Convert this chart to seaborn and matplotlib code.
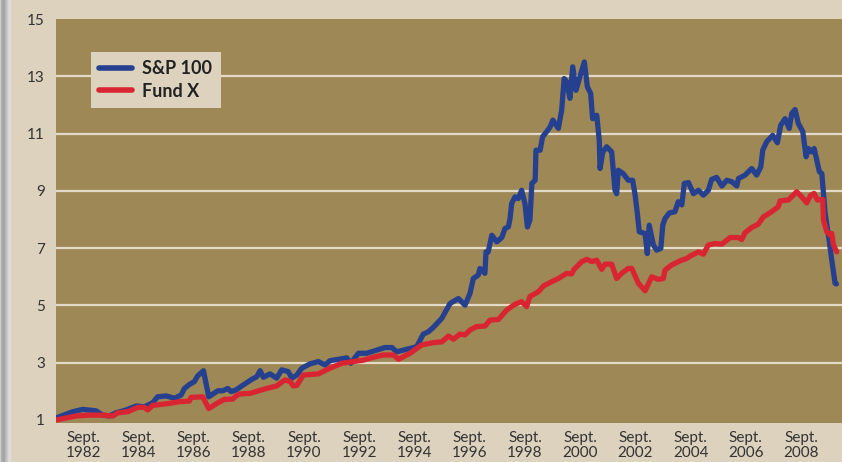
import numpy as np
import pandas as pd
import matplotlib
matplotlib.use("Agg")
import matplotlib.pyplot as plt
import seaborn as sns

# ---------------- data (decimal years, growth of $1) ----------------
sp_years = [1981.69, 1982.30, 1982.66, 1983.14, 1983.38, 1983.62, 1983.86, 1984.23, 1984.59, 1984.89,
            1985.19, 1985.37, 1985.68, 1985.98, 1986.22, 1986.34, 1986.52, 1986.70, 1986.82, 1987.03,
            1987.22, 1987.55, 1987.73, 1987.91, 1988.03, 1988.21, 1988.42, 1988.78, 1988.96, 1989.08,
            1989.20, 1989.44, 1989.68, 1989.86, 1990.10, 1990.23, 1990.41, 1990.59, 1990.89, 1991.19,
            1991.43, 1991.61, 1991.91, 1992.22, 1992.36, 1992.64, 1992.94, 1993.30, 1993.60, 1993.85,
            1994.03, 1994.27, 1994.39, 1994.75, 1994.99, 1995.17, 1995.35, 1995.66, 1995.96, 1996.26,
            1996.50, 1996.68, 1996.80, 1996.98, 1997.04, 1997.22, 1997.26, 1997.34, 1997.47, 1997.65,
            1997.83, 1997.95, 1998.07, 1998.13, 1998.19, 1998.31, 1998.43, 1998.55, 1998.67, 1998.76,
            1998.85, 1998.92, 1999.04, 1999.07, 1999.22, 1999.31, 1999.46, 1999.58, 1999.68, 1999.88,
            2000.00, 2000.09, 2000.18, 2000.30, 2000.40, 2000.52, 2000.66, 2000.82, 2000.93, 2001.05,
            2001.12, 2001.27, 2001.36, 2001.39, 2001.49, 2001.63, 2001.81, 2001.93, 2001.99, 2002.05,
            2002.23, 2002.41, 2002.57, 2002.66, 2002.74, 2002.81, 2003.02, 2003.10, 2003.17, 2003.32,
            2003.44, 2003.59, 2003.66, 2003.74, 2003.90, 2004.10, 2004.22, 2004.35, 2004.44, 2004.59,
            2004.77, 2004.95, 2005.13, 2005.31, 2005.43, 2005.61, 2005.80, 2005.98, 2006.16, 2006.34,
            2006.40, 2006.64, 2006.88, 2007.06, 2007.21, 2007.28, 2007.42, 2007.64, 2007.81, 2007.93,
            2008.09, 2008.24, 2008.33, 2008.45, 2008.57, 2008.73, 2008.85, 2008.93, 2009.05, 2009.14,
            2009.21, 2009.33, 2009.42, 2009.47, 2009.54, 2009.65, 2009.78, 2009.90, 2009.95]
sp_values = [1.07, 1.29, 1.37, 1.32, 1.17, 1.14, 1.25, 1.35, 1.49, 1.46,
             1.60, 1.81, 1.84, 1.76, 1.87, 2.10, 2.24, 2.34, 2.54, 2.72,
             1.81, 2.02, 2.02, 2.10, 1.99, 2.05, 2.19, 2.42, 2.51, 2.72,
             2.49, 2.61, 2.46, 2.75, 2.69, 2.46, 2.57, 2.81, 2.96, 3.04,
             2.92, 3.07, 3.12, 3.17, 2.98, 3.33, 3.33, 3.44, 3.53, 3.53,
             3.38, 3.44, 3.47, 3.56, 4.00, 4.08, 4.23, 4.55, 5.07, 5.24,
             5.01, 5.42, 5.94, 6.06, 6.29, 6.12, 6.87, 6.87, 7.45, 7.22,
             7.37, 7.69, 7.74, 8.03, 8.56, 8.79, 8.73, 9.02, 8.56, 7.74,
             7.98, 9.26, 9.37, 10.42, 10.42, 10.89, 11.07, 11.23, 11.47, 11.18,
             11.82, 12.92, 12.81, 12.23, 13.33, 12.51, 12.98, 13.50, 12.63, 12.40,
             11.52, 11.64, 10.77, 9.78, 10.36, 10.54, 10.36, 9.02, 8.90, 9.72,
             9.60, 9.37, 9.37, 8.85, 8.21, 7.57, 7.51, 6.81, 7.80, 7.11,
             6.93, 6.99, 7.80, 8.03, 8.23, 8.27, 8.62, 8.51, 9.26, 9.29,
             8.90, 9.02, 8.85, 9.02, 9.40, 9.47, 9.17, 9.37, 9.32, 9.17,
             9.43, 9.55, 9.78, 9.55, 9.84, 10.42, 10.71, 10.94, 10.68, 11.29,
             11.52, 11.18, 11.70, 11.84, 11.35, 11.07, 10.19, 10.48, 10.36, 10.48,
             10.19, 9.67, 9.60, 9.02, 8.21, 7.51, 6.58, 5.77, 5.75]

fund_years = [1981.69, 1982.42, 1982.90, 1983.38, 1983.75, 1983.93, 1984.29, 1984.65, 1984.89, 1985.01,
              1985.19, 1985.80, 1986.16, 1986.52, 1986.58, 1987.00, 1987.22, 1987.55, 1987.79, 1988.09,
              1988.21, 1988.35, 1988.72, 1989.20, 1989.68, 1989.98, 1990.17, 1990.28, 1990.41, 1990.65,
              1991.19, 1991.61, 1992.04, 1992.46, 1992.82, 1993.18, 1993.54, 1993.91, 1994.09, 1994.51,
              1994.93, 1995.35, 1995.66, 1995.90, 1996.08, 1996.32, 1996.50, 1996.68, 1996.92, 1997.22,
              1997.41, 1997.71, 1998.01, 1998.31, 1998.55, 1998.73, 1998.85, 1999.16, 1999.34, 1999.64,
              1999.88, 2000.18, 2000.36, 2000.45, 2000.73, 2000.91, 2001.09, 2001.27, 2001.45, 2001.57,
              2001.81, 2001.99, 2002.17, 2002.41, 2002.54, 2002.78, 2003.02, 2003.26, 2003.50, 2003.68,
              2003.74, 2003.98, 2004.29, 2004.53, 2004.65, 2004.95, 2005.13, 2005.31, 2005.55, 2005.80,
              2006.10, 2006.40, 2006.52, 2006.64, 2006.88, 2007.12, 2007.30, 2007.54, 2007.84, 2007.91,
              2008.21, 2008.51, 2008.69, 2008.87, 2009.02, 2009.14, 2009.26, 2009.45, 2009.48, 2009.60,
              2009.72, 2009.78, 2009.84, 2009.96]
fund_values = [1.00, 1.14, 1.17, 1.17, 1.14, 1.25, 1.29, 1.44, 1.44, 1.35,
               1.51, 1.58, 1.64, 1.66, 1.79, 1.81, 1.40, 1.60, 1.72, 1.73,
               1.84, 1.91, 1.93, 2.07, 2.19, 2.40, 2.34, 2.19, 2.21, 2.57,
               2.61, 2.81, 2.98, 3.04, 3.09, 3.19, 3.27, 3.27, 3.12, 3.33,
               3.62, 3.70, 3.73, 3.93, 3.82, 4.00, 3.97, 4.14, 4.26, 4.28,
               4.49, 4.51, 4.84, 5.04, 5.13, 4.96, 5.31, 5.48, 5.68, 5.83,
               5.94, 6.12, 6.10, 6.26, 6.53, 6.61, 6.53, 6.58, 6.26, 6.44,
               6.44, 5.94, 6.12, 6.29, 6.29, 5.77, 5.51, 6.00, 5.91, 5.94,
               6.23, 6.41, 6.56, 6.64, 6.72, 6.87, 6.79, 7.11, 7.16, 7.14,
               7.37, 7.37, 7.30, 7.54, 7.72, 7.84, 8.09, 8.23, 8.44, 8.65,
               8.68, 8.97, 8.79, 8.58, 8.85, 8.91, 8.68, 8.70, 7.98, 7.57,
               7.46, 7.51, 7.11, 6.87]

series_names = ["S&P 100", "Fund X"]
y_ticks = [1, 3, 5, 7, 9, 11, 13, 15]
tick_years = [1982, 1984, 1986, 1988, 1990, 1992, 1994, 1996, 1998, 2000, 2002, 2004, 2006, 2008]
tick_labels = [f"Sept.\n{y}" for y in tick_years]

# ---------------- styling ----------------
OUTER = "#dcd2be"
PLOT_BG = "#9e8856"
GRID = "#e4dac8"
BLUE = "#25408f"
RED = "#d92532"
TEXT = "#333333"

sns.set_theme(style="white")
plt.rcParams["font.family"] = ["Lato", "DejaVu Sans"]

df = pd.concat([
    pd.DataFrame({"year": sp_years, "value": sp_values, "series": series_names[0]}),
    pd.DataFrame({"year": fund_years, "value": fund_values, "series": series_names[1]}),
], ignore_index=True)

fig = plt.figure(figsize=(8.42, 4.62), dpi=100, facecolor=OUTER)
ax = fig.add_axes([56 / 842, 1 - 423 / 462, 1 - 56 / 842, (423 - 19) / 462])
ax.set_facecolor(PLOT_BG)

# left shadow strip
sh = fig.add_axes([0, 0, 11 / 842, 1])
grad = np.array([[0.80, 0.70, 0.66, 0.64, 0.66, 0.70, 0.75, 0.80, 0.84, 0.86, 0.86]])
sh.imshow(grad, aspect="auto", cmap="gray", vmin=0, vmax=1, extent=[0, 1, 0, 1])
sh.set_axis_off()

sns.lineplot(data=df, x="year", y="value", hue="series", hue_order=series_names,
             palette=[BLUE, RED], linewidth=3.8, ax=ax, estimator=None, sort=False,
             legend=True)
# red drawn above blue
for ln in ax.lines:
    ln.set_solid_joinstyle("round")
    ln.set_solid_capstyle("round")

for lvl in y_ticks[1:-1]:
    ax.axhline(lvl, color=GRID, linewidth=1.6, zorder=0.5)

ax.set_xlim(1981.69, 2010.15)
ax.set_ylim(0.895, 15)
ax.set_yticks(y_ticks)
ax.set_yticklabels([str(v) for v in y_ticks], fontsize=11, color=TEXT)
ax.set_xticks([y + 0.67 for y in tick_years])
ax.set_xticklabels(tick_labels, fontsize=11, color=TEXT, linespacing=1.1)
ax.tick_params(axis="both", length=0)
ax.tick_params(axis="y", pad=8)
ax.tick_params(axis="x", pad=6)
ax.set_xlabel("")
ax.set_ylabel("")
for s in ax.spines.values():
    s.set_visible(False)

handles, labels = ax.get_legend_handles_labels()
leg = ax.legend(handles, labels, loc="upper left", bbox_to_anchor=(0.0445, 0.918),
                borderaxespad=0, frameon=True, fancybox=False, framealpha=1,
                facecolor=OUTER, edgecolor="none", prop={"weight": "bold", "size": 13},
                handlelength=1.8, handletextpad=0.6, labelspacing=0.3,
                borderpad=0.45)
for t in leg.get_texts():
    t.set_color("#222222")
for h in leg.get_lines():
    h.set_linewidth(4)

fig.savefig("out.png", dpi=100, facecolor=OUTER)
